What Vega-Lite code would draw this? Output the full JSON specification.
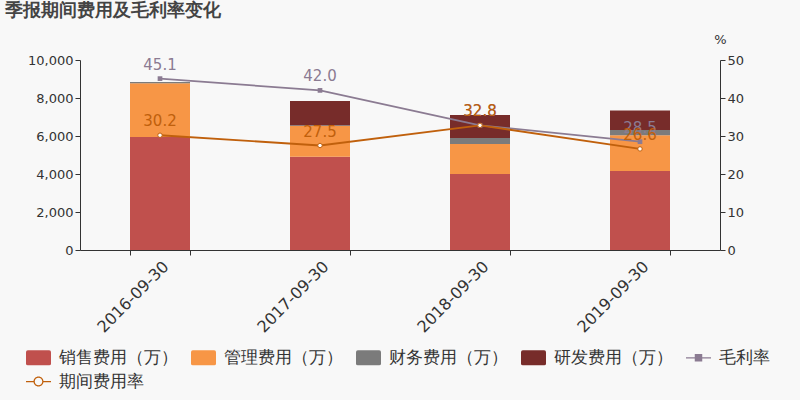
{
  "$schema": "https://vega.github.io/schema/vega-lite/v6.json",
  "width": 640,
  "height": 190,
  "autosize": {"type": "none"},
  "padding": {"left": 80, "top": 60, "right": 80, "bottom": 150},
  "background": "#f8f8f8",
  "config": {
    "font": "DejaVu Sans",
    "view": {"stroke": null},
    "axis": {"grid": false, "domainColor": "#333333", "tickColor": "#333333", "labelColor": "#333333", "titleColor": "#333333"}
  },
  "title": {"text": "季报期间费用及毛利率变化", "anchor": "start", "frame": "group", "fontSize": 18, "fontWeight": "bold", "color": "#444444", "dx": -75, "dy": -9},
  "datasets": {
    "bars": [
      {"date": "2016-09-30", "series": "销售费用（万）", "ord": 1, "value": 5950},
      {"date": "2016-09-30", "series": "管理费用（万）", "ord": 2, "value": 2820},
      {"date": "2016-09-30", "series": "财务费用（万）", "ord": 3, "value": 70},
      {"date": "2016-09-30", "series": "研发费用（万）", "ord": 4, "value": 0},
      {"date": "2017-09-30", "series": "销售费用（万）", "ord": 1, "value": 4910},
      {"date": "2017-09-30", "series": "管理费用（万）", "ord": 2, "value": 1616},
      {"date": "2017-09-30", "series": "财务费用（万）", "ord": 3, "value": 40},
      {"date": "2017-09-30", "series": "研发费用（万）", "ord": 4, "value": 1280},
      {"date": "2018-09-30", "series": "销售费用（万）", "ord": 1, "value": 4000},
      {"date": "2018-09-30", "series": "管理费用（万）", "ord": 2, "value": 1580},
      {"date": "2018-09-30", "series": "财务费用（万）", "ord": 3, "value": 315},
      {"date": "2018-09-30", "series": "研发费用（万）", "ord": 4, "value": 1210},
      {"date": "2019-09-30", "series": "销售费用（万）", "ord": 1, "value": 4160},
      {"date": "2019-09-30", "series": "管理费用（万）", "ord": 2, "value": 1880},
      {"date": "2019-09-30", "series": "财务费用（万）", "ord": 3, "value": 280},
      {"date": "2019-09-30", "series": "研发费用（万）", "ord": 4, "value": 1020}
    ],
    "lines": [
      {"date": "2016-09-30", "series": "毛利率", "rate": 45.1},
      {"date": "2017-09-30", "series": "毛利率", "rate": 42.0},
      {"date": "2018-09-30", "series": "毛利率", "rate": 32.8},
      {"date": "2019-09-30", "series": "毛利率", "rate": 28.5},
      {"date": "2016-09-30", "series": "期间费用率", "rate": 30.2},
      {"date": "2017-09-30", "series": "期间费用率", "rate": 27.5},
      {"date": "2018-09-30", "series": "期间费用率", "rate": 32.8},
      {"date": "2019-09-30", "series": "期间费用率", "rate": 26.6}
    ]
  },
  "encoding": {
    "x": {
      "field": "date", "type": "nominal", "sort": null,
      "scale": {"paddingInner": 0.625, "paddingOuter": 0.3125},
      "axis": {"title": null, "labelAngle": -45, "labelFontSize": 16, "tickBand": "extent", "labelPadding": 3}
    }
  },
  "layer": [
    {
      "data": {"name": "bars"},
      "mark": {"type": "bar"},
      "encoding": {
        "y": {
          "field": "value", "type": "quantitative", "aggregate": "sum", "stack": "zero",
          "scale": {"domain": [0, 10000]},
          "axis": {"title": null, "values": [0, 2000, 4000, 6000, 8000, 10000], "format": ",d", "labelFontSize": 13}
        },
        "order": {"field": "ord", "type": "quantitative"},
        "color": {
          "field": "series", "type": "nominal",
          "scale": {
            "domain": ["销售费用（万）", "管理费用（万）", "财务费用（万）", "研发费用（万）", "毛利率", "期间费用率"],
            "range": ["#c0504d", "#f79646", "#7b7b7b", "#772c2a", "#8b7b92", "#c0600c"]
          },
          "legend": {
            "orient": "none", "legendX": -54, "legendY": 285,
            "direction": "horizontal", "columns": 5, "title": null,
            "labelFontSize": 17, "labelColor": "#333333", "labelFont": "DejaVu Sans",
            "symbolSize": 625, "columnPadding": 13, "rowPadding": 3, "labelOffset": 8,
            "labelLimit": 200,
            "encode": {
              "symbols": {
                "update": {
                  "shape": {"signal": "datum.value === '毛利率' ? 'M-1,-0.05H1V0.05H-1ZM-0.3,-0.3H0.3V0.3H-0.3Z' : datum.value === '期间费用率' ? 'M-1,-0.05H-0.36V0.05H-1ZM0.36,-0.05H1V0.05H0.36ZM0.4,0A0.4,0.4 0 1,1 -0.4,0A0.4,0.4 0 1,1 0.4,0ZM0.3,0A0.3,0.3 0 1,0 -0.3,0A0.3,0.3 0 1,0 0.3,0Z' : 'M-0.85,-0.6H0.85Q1,-0.6 1,-0.45V0.45Q1,0.6 0.85,0.6H-0.85Q-1,0.6 -1,0.45V-0.45Q-1,-0.6 -0.85,-0.6Z'"},
                  "fill": {"signal": "scale('color', datum.value)"},
                  "stroke": {"signal": "scale('color', datum.value)"},
                  "strokeWidth": {"value": 0},
                  "opacity": {"value": 1},
                  "fillOpacity": {"value": 1}
                }
              }
            }
          }
        }
      }
    },
    {
      "data": {"name": "lines"},
      "encoding": {
        "y": {
          "field": "rate", "type": "quantitative",
          "scale": {"domain": [0, 50]},
          "axis": {"orient": "right", "title": "%", "values": [0, 10, 20, 30, 40, 50], "labelFontSize": 13,
                   "titleAngle": 0, "titleX": 0, "titleY": -21, "titleAlign": "center", "titleBaseline": "middle",
                   "titleFontSize": 13, "titleFontWeight": "normal"}
        }
      },
      "layer": [
        {
          "mark": {"type": "line", "strokeWidth": 1.8},
          "encoding": {
            "color": {"field": "series", "type": "nominal"}
          }
        },
        {
          "transform": [{"filter": "datum.series === '毛利率'"}],
          "mark": {"type": "point", "shape": "square", "filled": true, "size": 22, "color": "#8b7b92", "opacity": 1}
        },
        {
          "transform": [{"filter": "datum.series === '期间费用率'"}],
          "mark": {"type": "point", "shape": "circle", "filled": true, "size": 20, "fill": "#ffffff", "stroke": "#c0600c", "strokeWidth": 1, "opacity": 1}
        },
        {
          "mark": {"type": "text", "dy": -14, "fontSize": 15},
          "encoding": {
            "text": {"field": "rate", "type": "quantitative", "format": ".1f"},
            "color": {"field": "series", "type": "nominal"}
          }
        }
      ]
    }
  ],
  "resolve": {"scale": {"y": "independent"}}
}
